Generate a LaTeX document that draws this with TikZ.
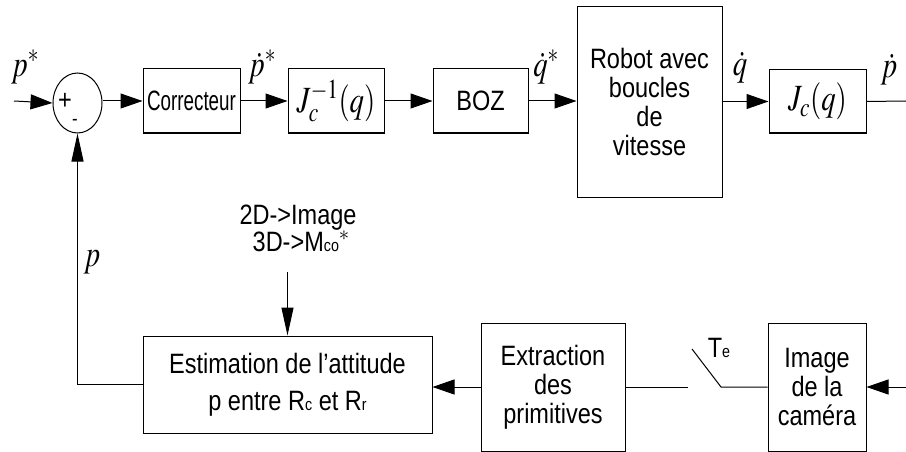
\documentclass[tikz,border=0pt]{standalone}
\usepackage{mathptmx}
\usepackage[no-math]{fontspec}
\setmainfont[FakeStretch=0.84]{Liberation Sans}
\usepackage{graphicx}
\usetikzlibrary{arrows.meta,shapes.geometric,positioning,calc}

% small lower-case indices set on the baseline
\newcommand{\sml}[1]{{\fontsize{17}{17}\selectfont #1}}
% signal names (italic, a bit narrow)
\newcommand{\sig}[1]{\scalebox{0.78}[1]{\fontsize{37}{39}\selectfont$#1$}}

\begin{document}
\begin{tikzpicture}[x=1pt,y=-1pt,font=\fontsize{28}{29}\selectfont]
	\tikzset{blk/.style={draw,line width=1pt,inner sep=0pt,align=center},
		fl/.style={line width=1pt,-{Triangle[length=22pt,width=15pt]}},
		vfl/.style={line width=1pt,-{Triangle[length=28pt,width=12pt]}},
		ln/.style={line width=1pt}}
	\useasboundingbox (0,0) rectangle (906,452);

	% forward chain
	\node [draw,ellipse,line width=1pt,minimum width=49pt,minimum height=60pt,inner sep=0pt] (sum) at (77.5,103) {};
	\node (plus) at (65,101) {+};
	\node (minus) at (75,122) {\fontsize{20}{20}\selectfont -};
	\node [blk,minimum width=97pt,minimum height=64pt] (corr) at (191.5,101) {\scalebox{0.8}[1]{Correcteur}};
	\node [blk,minimum width=96pt,minimum height=64pt] (jinv) at (336,101) {\sig{J_c^{-1}(q)}};
	\node [blk,minimum width=95pt,minimum height=64pt] (boz) at (480.5,101) {BOZ};
	\node [blk,minimum width=145pt,minimum height=190pt] (robot) at (649.5,102) {Robot avec\\boucles\\de\\vitesse};
	\node [blk,minimum width=97pt,minimum height=63pt] (jc) at (817.5,101.5) {\sig{J_c(q)}};

	% measurement chain
	\node [blk,minimum width=289pt,minimum height=97pt,font=\fontsize{28}{37}\selectfont] (estim) at (287.5,384.5) {Estimation de l’attitude\\p entre R\sml{c} et R\sml{r}};
	\node [blk,minimum width=144pt,minimum height=128pt] (extr) at (553,387) {Extraction\\des\\primitives};
	\node [blk,minimum width=98pt,minimum height=128pt] (cam) at (817,387) {Image\\de la\\caméra};

	\coordinate (in) at (14,101);
	\coordinate (out) at (906,101);
	\coordinate (info) at (287.5,272);
	\coordinate (sw1) at (688,387);
	\coordinate (sw2) at (692,349);
	\coordinate (sw3) at (721,387);
	\coordinate (cin) at (906,387);

	\draw [fl] (in) -- (sum.west);
	\draw [fl] (sum.east |- corr.west) -- (corr.west);
	\draw [fl] (corr.east) -- (jinv.west);
	\draw [fl] (jinv.east) -- (boz.west);
	\draw [fl] (boz.east) -- (boz.east -| robot.west);
	\draw [fl] (robot.east |- jc.west) -- (jc.west);
	\draw [ln] (jc.east) -- (out);

	\draw [vfl] (estim.west) -| (sum.south);
	\draw [vfl] (info) -- (estim.north);
	\draw [fl] (extr.west) -- (extr.west -| estim.east);
	\draw [ln] (extr.east) -- (sw1);
	\draw [ln] (sw2) -- (sw3) -- (cam.west);
	\draw [fl] (cin) -- (cam.east);

	% signal labels
	\node (lpr) at (25,67) {\sig{p^{*}}};
	\node (lpdr) at (262,67) {\sig{\dot{p}^{*}}};
	\node (lqdr) at (546,67) {\sig{\dot{q}^{*}}};
	\node (lqd) at (740,68) {\sig{\dot{q}}};
	\node (lpd) at (889,70) {\sig{\dot{p}}};
	\node (lp) at (92,262) {\sig{p}};
	\node (lte) at (719,348) {T\sml{e}};
	\node [align=center,font=\fontsize{28}{27}\selectfont] (lmod) at (298,228) {2D->Image\\\ 3D->M\sml{co}$^{*}$};
\end{tikzpicture}
\end{document}
